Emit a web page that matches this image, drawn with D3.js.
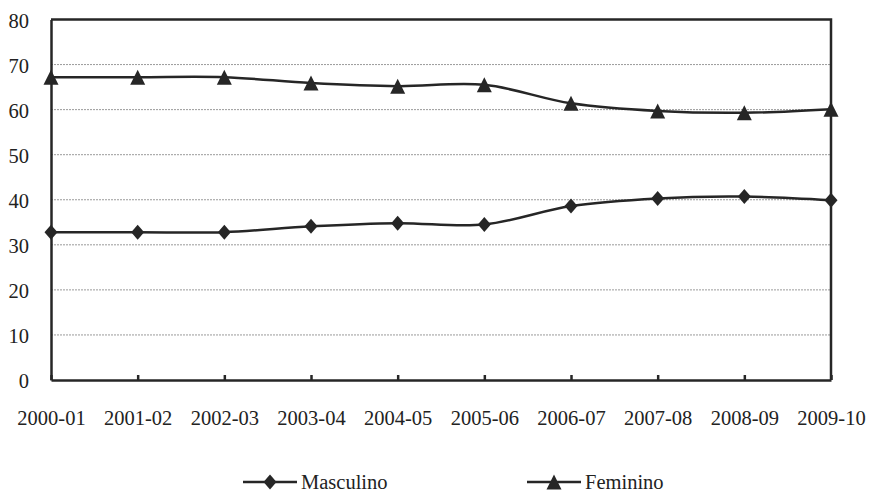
<!DOCTYPE html>
<html>
<head>
<meta charset="utf-8">
<script src="https://cdn.jsdelivr.net/npm/d3@7"></script>
<style>
  body { margin: 0; background: #fff; }
  svg text { font-family: "Liberation Serif", "Times New Roman", serif; fill: #222; }
</style>
</head>
<body>
<div id="main_view"></div>
<script>
// data
var categories = ["2000-01", "2001-02", "2002-03", "2003-04", "2004-05",
                  "2005-06", "2006-07", "2007-08", "2008-09", "2009-10"];
var masculino = [32.8, 32.8, 32.8, 34.1, 34.8, 34.5, 38.6, 40.3, 40.7, 39.9];
var feminino  = [67.2, 67.2, 67.2, 65.9, 65.2, 65.5, 61.4, 59.7, 59.3, 60.1];
var yTicks = [0, 10, 20, 30, 40, 50, 60, 70, 80];
var seriesNames = ["Masculino", "Feminino"];

var ink = "#262626";
var serif = '"Liberation Serif", "Times New Roman", serif';

// set the dimensions and margins of the graph
var margin = {top: 19.5, right: 40, bottom: 114, left: 51},
    width = 871 - margin.left - margin.right,
    height = 494 - margin.top - margin.bottom;

var xScale = d3.scalePoint().domain(categories).range([0, width]).padding(0);
var yScale = d3.scaleLinear().domain([0, 80]).range([height, 0]);

var svg = d3.select("#main_view").append("svg")
    .attr("width", 871)
    .attr("height", 494)
  .append("g")
    .attr("transform", "translate(" + margin.left + "," + margin.top + ")");

// gridlines
svg.selectAll(".grid")
    .data(yTicks.filter(function(d) { return d > 0 && d < 80; }))
  .enter().append("line")
    .attr("class", "grid")
    .attr("x1", 0).attr("x2", width)
    .attr("y1", function(d) { return yScale(d); })
    .attr("y2", function(d) { return yScale(d); })
    .attr("stroke", "#9a9a9a")
    .attr("stroke-width", 1)
    .attr("stroke-dasharray", "2,1");

// frame top and right
svg.append("path")
    .attr("d", "M0," + yScale(80) + "H" + width + "V" + yScale(0))
    .attr("fill", "none")
    .attr("stroke", ink)
    .attr("stroke-width", 2.5);

// X axis
var xAxis = svg.append("g")
    .attr("transform", "translate(0," + height + ")")
    .call(d3.axisBottom(xScale).tickSizeInner(-5).tickSizeOuter(0).tickPadding(30));
xAxis.attr("font-family", serif);
xAxis.select(".domain").attr("stroke", ink).attr("stroke-width", 2.5);
xAxis.selectAll(".tick line").attr("stroke", ink).attr("stroke-width", 2.5);
xAxis.selectAll(".tick text").attr("font-size", 20.5).attr("fill", ink);

// Y axis
var yAxis = svg.append("g")
    .call(d3.axisLeft(yScale).tickValues(yTicks).tickSize(0).tickPadding(22));
yAxis.attr("font-family", serif);
yAxis.select(".domain").attr("stroke", ink).attr("stroke-width", 2.5);
yAxis.selectAll(".tick text").attr("font-size", 20.5).attr("fill", ink)
    .attr("dy", "0.38em");

// lines
var line = d3.line()
    .x(function(d, i) { return xScale(categories[i]); })
    .y(function(d) { return yScale(d); })
    .curve(d3.curveCatmullRom.alpha(0));

var diamond = "M0,-7.5L6.5,0L0,7.5L-6.5,0Z";
var triangle = "M0,-7.5L7.5,7.5L-7.5,7.5Z";
var shapes = [diamond, triangle];

[masculino, feminino].forEach(function(series, k) {
  svg.append("path")
      .datum(series)
      .attr("fill", "none")
      .attr("stroke", ink)
      .attr("stroke-width", 2.5)
      .attr("d", line);

  svg.selectAll(".dot" + k)
      .data(series)
    .enter().append("path")
      .attr("class", "dot" + k)
      .attr("d", shapes[k])
      .attr("transform", function(d, i) {
        return "translate(" + xScale(categories[i]) + "," + yScale(d) + ")";
      })
      .attr("fill", ink);
});

// legend
var legendX = [219, 503];
seriesNames.forEach(function(name, k) {
  var g = svg.append("g")
      .attr("transform", "translate(" + legendX[k] + "," + (482 - margin.top) + ")");
  g.append("line")
      .attr("x1", -27).attr("x2", 27)
      .attr("stroke", ink).attr("stroke-width", 2.5);
  g.append("path").attr("d", shapes[k]).attr("fill", ink);
  g.append("text")
      .attr("x", 31)
      .attr("dy", "0.36em")
      .attr("font-family", serif)
      .attr("font-size", 20.5)
      .text(name);
});
</script>
</body>
</html>
